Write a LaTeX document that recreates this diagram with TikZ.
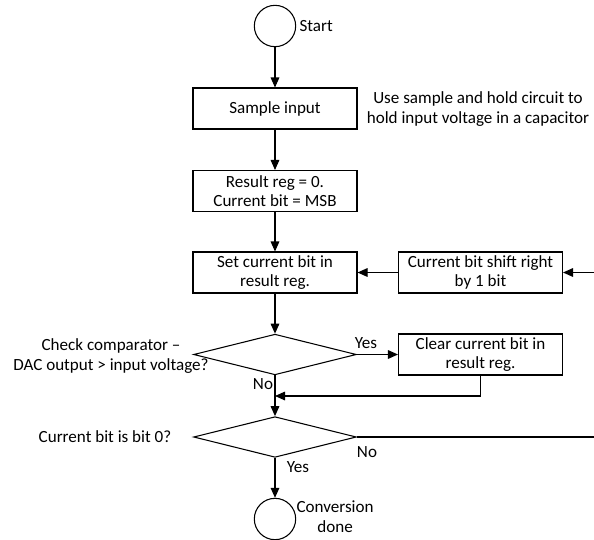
\documentclass[tikz,border=0pt]{standalone}
\usepackage{fontspec}
\setmainfont{Carlito}
\usetikzlibrary{shapes.geometric,arrows.meta}
\begin{document}
\begin{tikzpicture}[x=0.75pt,y=-0.75pt,
  font=\fontsize{12.8}{14.8}\selectfont,
  line width=0.8pt,
  arr/.style={-{Triangle[length=7.5pt,width=6.5pt]}},
  procbox/.style={draw,minimum width=123pt,minimum height=30.75pt,inner sep=1pt,align=center},
  term/.style={draw,circle,minimum size=31pt,inner sep=0pt},
  dec/.style={draw,diamond,minimum width=122pt,minimum height=30.5pt,inner sep=0pt},
  lbl/.style={inner sep=0pt,align=center}]
\useasboundingbox (0,0) rectangle (594,540);
\node[term] (start) at (275,26) {};
\node[lbl,anchor=west] (startl) at (299,26) {Start};
\node[procbox] (sample) at (275,108.5) {Sample input};
\node[lbl] (note) at (478,109) {Use sample and hold circuit to\\hold input voltage in a capacitor};
\node[procbox] (init) at (275,191) {Result reg = 0.\\Current bit = MSB};
\node[procbox] (set) at (275,272.5) {Set current bit in\\result reg.};
\node[procbox] (shift) at (480.5,272.5) {Current bit shift right\\by 1 bit};
\node[dec] (chk) at (275,354.5) {};
\node[lbl] (chkl) at (111,356) {Check comparator –\\DAC output > input voltage?};
\node[procbox] (clr) at (480.5,354.5) {Clear current bit in\\result reg.};
\node[dec] (last) at (275,437) {};
\node[lbl] (lastl) at (105,437) {Current bit is bit 0?};
\node[term] (done) at (275,519) {};
\node[lbl,anchor=west] (donel) at (296,517) {Conversion\\done};
\node[lbl] (yes1) at (366,343) {Yes};
\node[lbl] (no1) at (263,384) {No};
\node[lbl] (no2) at (367,452) {No};
\node[lbl] (yes2) at (298,467) {Yes};
\coordinate (merge) at (275,396);
\coordinate (rb) at (600,437);
\coordinate (rt) at (600,272.5);
\draw[arr] (start) -- (sample);
\draw[arr] (sample) -- (init);
\draw[arr] (init) -- (set);
\draw[arr] (shift) -- (set);
\draw[arr] (set) -- (chk);
\draw[arr] (chk.east) -- (clr);
\draw[arr] (chk.south) -- (last.north);
\draw[arr] (clr.south) |- (merge);
\draw[arr] (last.south) -- (done);
\draw[arr] (last.east) -- (rb) -- (rt) -- (shift.east);
\end{tikzpicture}
\end{document}
